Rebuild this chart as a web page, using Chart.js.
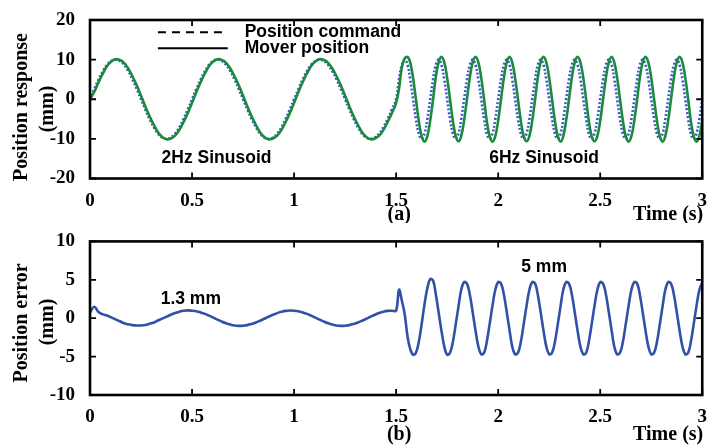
<!DOCTYPE html>
<html>
<head>
<meta charset="utf-8">
<script src="https://cdn.jsdelivr.net/npm/chart.js@4"></script>
<style>
  html, body { margin: 0; padding: 0; background: #fff; }
  #wrap { position: relative; width: 710px; height: 446px; }
  .panel { position: absolute; left: 0; width: 710px; height: 223px; }
</style>
</head>
<body>
<div id="wrap">
  <div class="panel" style="top:0"><canvas id="topChart"></canvas></div>
  <div class="panel" style="top:223px"><canvas id="bottomChart"></canvas></div>
</div>
<script>
// time (s): 2 Hz part sampled every 1/48 s, 6 Hz part every 1/72 s
const timeA = [
  0, 0.021, 0.042, 0.063, 0.083, 0.104, 0.125, 0.146, 0.167, 0.188, 0.208, 0.229,
  0.25, 0.271, 0.292, 0.313, 0.333, 0.354, 0.375, 0.396, 0.417, 0.438, 0.458, 0.479,
  0.5, 0.521, 0.542, 0.563, 0.583, 0.604, 0.625, 0.646, 0.667, 0.688, 0.708, 0.729,
  0.75, 0.771, 0.792, 0.813, 0.833, 0.854, 0.875, 0.896, 0.917, 0.938, 0.958, 0.979,
  1.0, 1.021, 1.042, 1.063, 1.083, 1.104, 1.125, 1.146, 1.167, 1.188, 1.208, 1.229,
  1.25, 1.271, 1.292, 1.313, 1.333, 1.354, 1.375, 1.396, 1.417, 1.438, 1.458, 1.479,
  1.5
];
const timeB = [
  1.514, 1.528, 1.542, 1.556, 1.569, 1.583, 1.597, 1.611, 1.625, 1.639, 1.653, 1.667,
  1.681, 1.694, 1.708, 1.722, 1.736, 1.75, 1.764, 1.778, 1.792, 1.806, 1.819, 1.833,
  1.847, 1.861, 1.875, 1.889, 1.903, 1.917, 1.931, 1.944, 1.958, 1.972, 1.986, 2.0,
  2.014, 2.028, 2.042, 2.056, 2.069, 2.083, 2.097, 2.111, 2.125, 2.139, 2.153, 2.167,
  2.181, 2.194, 2.208, 2.222, 2.236, 2.25, 2.264, 2.278, 2.292, 2.306, 2.319, 2.333,
  2.347, 2.361, 2.375, 2.389, 2.403, 2.417, 2.431, 2.444, 2.458, 2.472, 2.486, 2.5,
  2.514, 2.528, 2.542, 2.556, 2.569, 2.583, 2.597, 2.611, 2.625, 2.639, 2.653, 2.667,
  2.681, 2.694, 2.708, 2.722, 2.736, 2.75, 2.764, 2.778, 2.792, 2.806, 2.819, 2.833,
  2.847, 2.861, 2.875, 2.889, 2.903, 2.917, 2.931, 2.944, 2.958, 2.972, 2.986, 3.0
];

// position command (mm)
const commandA = [
  0, 2.59, 5, 7.07, 8.66, 9.66, 10, 9.66, 8.66, 7.07, 5, 2.59,
  0, -2.59, -5, -7.07, -8.66, -9.66, -10, -9.66, -8.66, -7.07, -5, -2.59,
  0, 2.59, 5, 7.07, 8.66, 9.66, 10, 9.66, 8.66, 7.07, 5, 2.59,
  0, -2.59, -5, -7.07, -8.66, -9.66, -10, -9.66, -8.66, -7.07, -5, -2.59,
  0, 2.59, 5, 7.07, 8.66, 9.66, 10, 9.66, 8.66, 7.07, 5, 2.59,
  0, -2.59, -5, -7.07, -8.66, -9.66, -10, -9.66, -8.66, -7.07, -5, -2.59,
  0
];
const commandB = [
  5, 8.66, 10, 8.66, 5, 0, -5, -8.66, -10, -8.66, -5, 0,
  5, 8.66, 10, 8.66, 5, 0, -5, -8.66, -10, -8.66, -5, 0,
  5, 8.66, 10, 8.66, 5, 0, -5, -8.66, -10, -8.66, -5, 0,
  5, 8.66, 10, 8.66, 5, 0, -5, -8.66, -10, -8.66, -5, 0,
  5, 8.66, 10, 8.66, 5, 0, -5, -8.66, -10, -8.66, -5, 0,
  5, 8.66, 10, 8.66, 5, 0, -5, -8.66, -10, -8.66, -5, 0,
  5, 8.66, 10, 8.66, 5, 0, -5, -8.66, -10, -8.66, -5, 0,
  5, 8.66, 10, 8.66, 5, 0, -5, -8.66, -10, -8.66, -5, 0,
  5, 8.66, 10, 8.66, 5, 0, -5, -8.66, -10, -8.66, -5, 0
];

// mover position (mm)
const moverA = [
  0, 1.9, 4.3, 6.5, 8.3, 9.5, 10.1, 9.9, 9.2, 7.7, 5.8, 3.5,
  0.9, -1.8, -4.3, -6.5, -8.3, -9.5, -10.1, -9.9, -9.2, -7.7, -5.8, -3.5,
  -0.9, 1.8, 4.3, 6.5, 8.3, 9.5, 10.1, 9.9, 9.2, 7.7, 5.8, 3.5,
  0.9, -1.8, -4.3, -6.5, -8.3, -9.5, -10.1, -9.9, -9.2, -7.7, -5.8, -3.5,
  -0.9, 1.8, 4.3, 6.5, 8.3, 9.5, 10.1, 9.9, 9.2, 7.7, 5.8, 3.5,
  0.9, -1.8, -4.3, -6.5, -8.3, -9.5, -10.1, -9.9, -9.2, -7.7, -5.8, -3.5,
  -0.9
];
const moverB = [
  2.6, 8.0, 10.3, 10.7, 9.3, 5.4, 0, -5.4, -9.3, -10.7, -9.3, -5.4,
  0, 5.4, 9.3, 10.7, 9.3, 5.4, 0, -5.4, -9.3, -10.6, -9.3, -5.4,
  0, 5.4, 9.3, 10.7, 9.3, 5.4, 0, -5.4, -9.3, -10.7, -9.3, -5.4,
  0, 5.4, 9.3, 10.7, 9.3, 5.4, 0, -5.4, -9.3, -10.6, -9.3, -5.4,
  0, 5.4, 9.3, 10.7, 9.3, 5.4, 0, -5.4, -9.3, -10.7, -9.3, -5.4,
  0, 5.4, 9.3, 10.7, 9.3, 5.4, 0, -5.4, -9.3, -10.6, -9.3, -5.4,
  0, 5.4, 9.3, 10.7, 9.3, 5.4, 0, -5.4, -9.3, -10.7, -9.3, -5.4,
  0, 5.4, 9.3, 10.7, 9.3, 5.4, 0, -5.4, -9.3, -10.7, -9.3, -5.4,
  0, 5.4, 9.3, 10.7, 9.3, 5.4, 0, -5.4, -9.3, -10.7, -9.3, -5.4
];

// position error (mm)
const errorA = [
  0.75, 1.5, 0.8, 0.5, 0.35, 0.1, -0.15, -0.4, -0.65, -0.8, -0.9, -0.95,
  -0.95, -0.88, -0.72, -0.55, -0.3, -0.05, 0.2, 0.45, 0.68, 0.85, 0.97, 1.02,
  0.98, 0.9, 0.75, 0.56, 0.33, 0.07, -0.19, -0.44, -0.66, -0.83, -0.95, -1.0,
  -0.98, -0.9, -0.75, -0.56, -0.33, -0.07, 0.19, 0.44, 0.66, 0.83, 0.95, 1.0,
  0.98, 0.9, 0.75, 0.56, 0.33, 0.07, -0.19, -0.44, -0.66, -0.83, -0.95, -1.0,
  -0.98, -0.9, -0.75, -0.56, -0.33, -0.07, 0.2, 0.45, 0.68, 0.85, 0.95, 0.97,
  1.0
];
const errorB = [
  3.7, 2.3, 0.5, -2.4, -4.0, -4.75, -4.5, -3.1, -0.8, 1.8, 3.9, 5.1,
  4.9, 3.2, 0.8, -1.6, -3.7, -4.75, -4.5, -3.1, -0.8, 1.6, 3.7, 4.7,
  4.5, 3.1, 0.8, -1.6, -3.7, -4.7, -4.5, -3.1, -0.8, 1.6, 3.7, 4.7,
  4.5, 3.1, 0.8, -1.6, -3.7, -4.7, -4.5, -3.1, -0.8, 1.6, 3.7, 4.7,
  4.5, 3.1, 0.8, -1.6, -3.7, -4.7, -4.5, -3.1, -0.8, 1.6, 3.7, 4.7,
  4.5, 3.1, 0.8, -1.6, -3.7, -4.7, -4.5, -3.1, -0.8, 1.6, 3.7, 4.7,
  4.5, 3.1, 0.8, -1.6, -3.7, -4.7, -4.5, -3.1, -0.8, 1.6, 3.7, 4.7,
  4.5, 3.1, 0.8, -1.6, -3.7, -4.7, -4.5, -3.1, -0.8, 1.6, 3.7, 4.7,
  4.5, 3.1, 0.8, -1.6, -3.7, -4.7, -4.5, -3.1, -0.8, 1.6, 3.7, 4.7
];

const SERIF = '"Liberation Serif", "Times New Roman", serif';
const SANS = '"Liberation Sans", Arial, sans-serif';
const GREEN = '#1b8a3f';
const BLUE = '#3a5ac4';
const ERR_BLUE = '#3150a8';

const time = timeA.concat(timeB);
function points(vals) {
  return time.map((t, i) => ({ x: t, y: vals[i] }));
}

// box, inward ticks and the text drawn inside/around each panel
function frame(spec) {
  return {
    id: 'frame',
    afterDraw(chart) {
      const { ctx, chartArea: a, scales: { x, y } } = chart;
      ctx.save();
      ctx.strokeStyle = '#000';
      ctx.fillStyle = '#000';
      ctx.lineWidth = 1.8;
      ctx.beginPath();
      for (const t of x.ticks) {
        const px = x.getPixelForValue(t.value);
        ctx.moveTo(px, a.top); ctx.lineTo(px, a.top + 6);
        ctx.moveTo(px, a.bottom); ctx.lineTo(px, a.bottom - 6);
      }
      for (const t of y.ticks) {
        const py = y.getPixelForValue(t.value);
        ctx.moveTo(a.left, py); ctx.lineTo(a.left + 6, py);
        ctx.moveTo(a.right, py); ctx.lineTo(a.right - 6, py);
      }
      ctx.stroke();
      ctx.lineWidth = 2.6;
      ctx.strokeRect(a.left, a.top, a.right - a.left, a.bottom - a.top);

      ctx.font = 'bold 20px ' + SERIF;
      ctx.textAlign = 'center';
      ctx.textBaseline = 'middle';
      spec.yTitle.forEach(l => {
        ctx.save();
        ctx.translate(l.x, l.y);
        ctx.rotate(-Math.PI / 2);
        ctx.fillText(l.text, 0, 0);
        ctx.restore();
      });
      ctx.fillText(spec.tag, x.getPixelForValue(1.5) + 3, spec.titleY);
      ctx.textAlign = 'right';
      ctx.fillText('Time (s)', a.right + 1, spec.titleY);

      ctx.font = 'bold 17.5px ' + SANS;
      ctx.textAlign = 'center';
      spec.notes.forEach(n => {
        ctx.fillText(n.text, x.getPixelForValue(n.x), y.getPixelForValue(n.y));
      });

      (spec.legend || []).forEach(k => {
        const py = y.getPixelForValue(k.y);
        ctx.lineWidth = 2;
        ctx.setLineDash(k.dash);
        ctx.beginPath();
        ctx.moveTo(x.getPixelForValue(k.x0), py);
        ctx.lineTo(x.getPixelForValue(k.x1), py);
        ctx.stroke();
        ctx.setLineDash([]);
        ctx.textAlign = 'left';
        ctx.fillText(k.text, x.getPixelForValue(k.tx), py);
      });
      ctx.restore();
    }
  };
}

function options(padTop, xHeight, yMin, yMax, yStep) {
  const tickFont = { family: SERIF, size: 19, weight: 'bold' };
  return {
    responsive: true,
    maintainAspectRatio: false,
    animation: false,
    layout: { padding: { left: 0, right: 6, top: padTop, bottom: 0 } },
    plugins: { legend: { display: false }, tooltip: { enabled: false } },
    elements: { point: { radius: 0 } },
    scales: {
      x: {
        type: 'linear', min: 0, max: 3,
        grid: { display: false }, border: { display: false },
        ticks: { stepSize: 0.5, color: '#000', font: tickFont, padding: 3, maxRotation: 0, autoSkip: false,
                 callback: v => String(v) },
        afterFit: s => { s.height = xHeight; }
      },
      y: {
        min: yMin, max: yMax,
        grid: { display: false }, border: { display: false },
        ticks: { stepSize: yStep, color: '#000', font: tickFont, padding: 7, callback: v => String(v) },
        afterFit: s => { s.width = 90; }
      }
    }
  };
}

new Chart(document.getElementById('topChart'), {
  type: 'line',
  data: {
    datasets: [
      { label: 'Mover position', data: points(moverA.concat(moverB)), borderColor: GREEN, borderWidth: 2.6, tension: 0.4, fill: false },
      { label: 'Position command', data: points(commandA.concat(commandB)), borderColor: BLUE, borderWidth: 2.6, borderDash: [2, 2], tension: 0.4, fill: false }
    ]
  },
  options: options(20, 44.5, -20, 20, 10),
  plugins: [frame({
    tag: '(a)', titleY: 215,
    yTitle: [{ text: 'Position response', x: 22, y: 107 }, { text: '(mm)', x: 48, y: 109 }],
    notes: [{ text: '2Hz Sinusoid', x: 0.62, y: -14.8 }, { text: '6Hz Sinusoid', x: 2.225, y: -14.8 }],
    legend: [
      { text: 'Position command', y: 16.9, x0: 0.333, x1: 0.675, tx: 0.758, dash: [8, 6] },
      { text: 'Mover position', y: 12.9, x0: 0.333, x1: 0.675, tx: 0.758, dash: [] }
    ]
  })]
});

new Chart(document.getElementById('bottomChart'), {
  type: 'line',
  data: {
    datasets: [
      { label: 'Position error', data: points(errorA.concat(errorB)), borderColor: ERR_BLUE, borderWidth: 2.6, tension: 0.4, fill: false }
    ]
  },
  options: options(13.7, 51, -10, 10, 5),
  plugins: [frame({
    tag: '(b)', titleY: 212,
    yTitle: [{ text: 'Position error', x: 22, y: 100 }, { text: '(mm)', x: 48, y: 99 }],
    notes: [{ text: '1.3 mm', x: 0.494, y: 2.5 }, { text: '5 mm', x: 2.225, y: 6.7 }]
  })]
});
</script>
</body>
</html>
